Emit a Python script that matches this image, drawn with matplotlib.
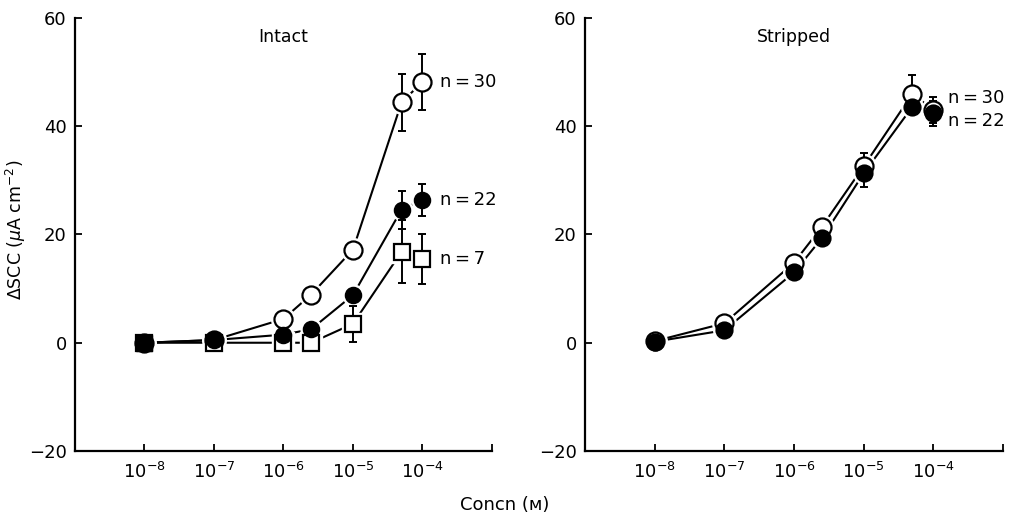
import numpy as np
import matplotlib
matplotlib.use("Agg")
import matplotlib.pyplot as plt

plt.rcParams['font.family'] = ['DejaVu Sans']

# concentrations (M)
conc = [1e-8, 1e-7, 1e-6, 2.5e-6, 1e-5, 5e-5, 1e-4]

# Intact preparation
intact_open = [0.0, 0.5, 4.4, 8.9, 17.2, 44.4, 48.2]
intact_open_err = [0, 0, 0, 0, 0, 5.2, 5.2]
intact_filled = [0.0, 0.5, 1.5, 2.5, 8.8, 24.6, 26.4]
intact_filled_err = [0, 0, 0, 0, 0, 3.5, 3.0]
intact_square = [0.0, 0.0, 0.0, 0.0, 3.5, 16.8, 15.5]
intact_square_err = [0, 0, 0, 0, 3.3, 5.8, 4.6]

# Stripped preparation
stripped_open = [0.3, 3.6, 14.8, 21.4, 32.6, 46.0, 43.0]
stripped_open_err = [0, 0, 0, 0, 2.4, 3.5, 2.4]
stripped_filled = [0.2, 2.3, 13.0, 19.3, 31.3, 43.6, 42.4]
stripped_filled_err = [0, 0, 0, 0, 2.6, 0, 2.3]

panel_titles = ["Intact", "Stripped"]
n_labels_intact = [("n\u2009=\u200930", 48.2), ("n\u2009=\u200922", 26.4), ("n\u2009=\u20097", 15.5)]
n_labels_stripped = [("n\u2009=\u200930", 45.2), ("n\u2009=\u200922", 41.0)]


def draw_series(ax, y, err, marker, face, ms):
    ax.plot(conc, y, '-', color='black', lw=1.5, zorder=1)
    # white halo so the curve stops short of each symbol
    ax.plot(conc, y, marker, ms=ms + 4, mfc='white', mec='white', ls='none', zorder=2)
    ax.errorbar(conc, y, yerr=err, fmt='none', ecolor='black', elinewidth=1.4,
                capsize=3, capthick=1.4, zorder=3)
    ax.plot(conc, y, marker, ms=ms, mfc=face, mec='black', mew=1.6,
            ls='none', zorder=4)


fig = plt.figure(figsize=(10.09, 5.2), dpi=100)
ax1 = fig.add_axes([0.0743, 0.1327, 0.4133, 0.8327])
ax2 = fig.add_axes([0.5798, 0.1327, 0.4143, 0.8327])

# left panel
draw_series(ax1, intact_open, intact_open_err, 'o', 'white', 13)
draw_series(ax1, intact_square, intact_square_err, 's', 'white', 12)
draw_series(ax1, intact_filled, intact_filled_err, 'o', 'black', 11)
ax1.plot(conc[:1], intact_square[:1], 's', ms=12, mfc='black', mec='black',
         ls='none', zorder=6)

# right panel
draw_series(ax2, stripped_open, stripped_open_err, 'o', 'white', 13)
draw_series(ax2, stripped_filled, stripped_filled_err, 'o', 'black', 11.5)

for ax, title in zip([ax1, ax2], panel_titles):
    ax.set_xscale('log')
    ax.set_xlim(1e-9, 1e-3)
    ax.set_ylim(-20, 60)
    ax.set_yticks([-20, 0, 20, 40, 60])
    ax.set_yticklabels(['\u221220', '0', '20', '40', '60'])
    ax.set_xticks([1e-8, 1e-7, 1e-6, 1e-5, 1e-4, 1e-3])
    ax.set_xticklabels([r'$\mathregular{10^{-8}}$', r'$\mathregular{10^{-7}}$',
                        r'$\mathregular{10^{-6}}$', r'$\mathregular{10^{-5}}$',
                        r'$\mathregular{10^{-4}}$', ''])
    ax.minorticks_off()
    ax.spines['top'].set_visible(False)
    ax.spines['right'].set_visible(False)
    ax.spines['left'].set_linewidth(1.6)
    ax.spines['bottom'].set_linewidth(1.6)
    ax.tick_params(direction='in', length=5, width=1.3, labelsize=13, pad=8)
    ax.tick_params(axis='y', pad=6)
    ax.text(0.5, 0.955, title, transform=ax.transAxes, ha='center',
            va='center', fontsize=12.5)

for label, y in n_labels_intact:
    ax1.text(1.8e-4, y, label, ha='left', va='center', fontsize=13)
for label, y in n_labels_stripped:
    ax2.text(1.6e-4, y, label, ha='left', va='center', fontsize=13)

ax1.set_ylabel(r'$\Delta$SCC ($\mu$A cm$^{-2}$)', fontsize=12.5)
ax1.yaxis.set_label_coords(-0.113, 0.51)
fig.text(0.5, 0.028, 'Concn (\u1d0d)', ha='center', va='center', fontsize=13)

fig.savefig('out.png', dpi=100)
